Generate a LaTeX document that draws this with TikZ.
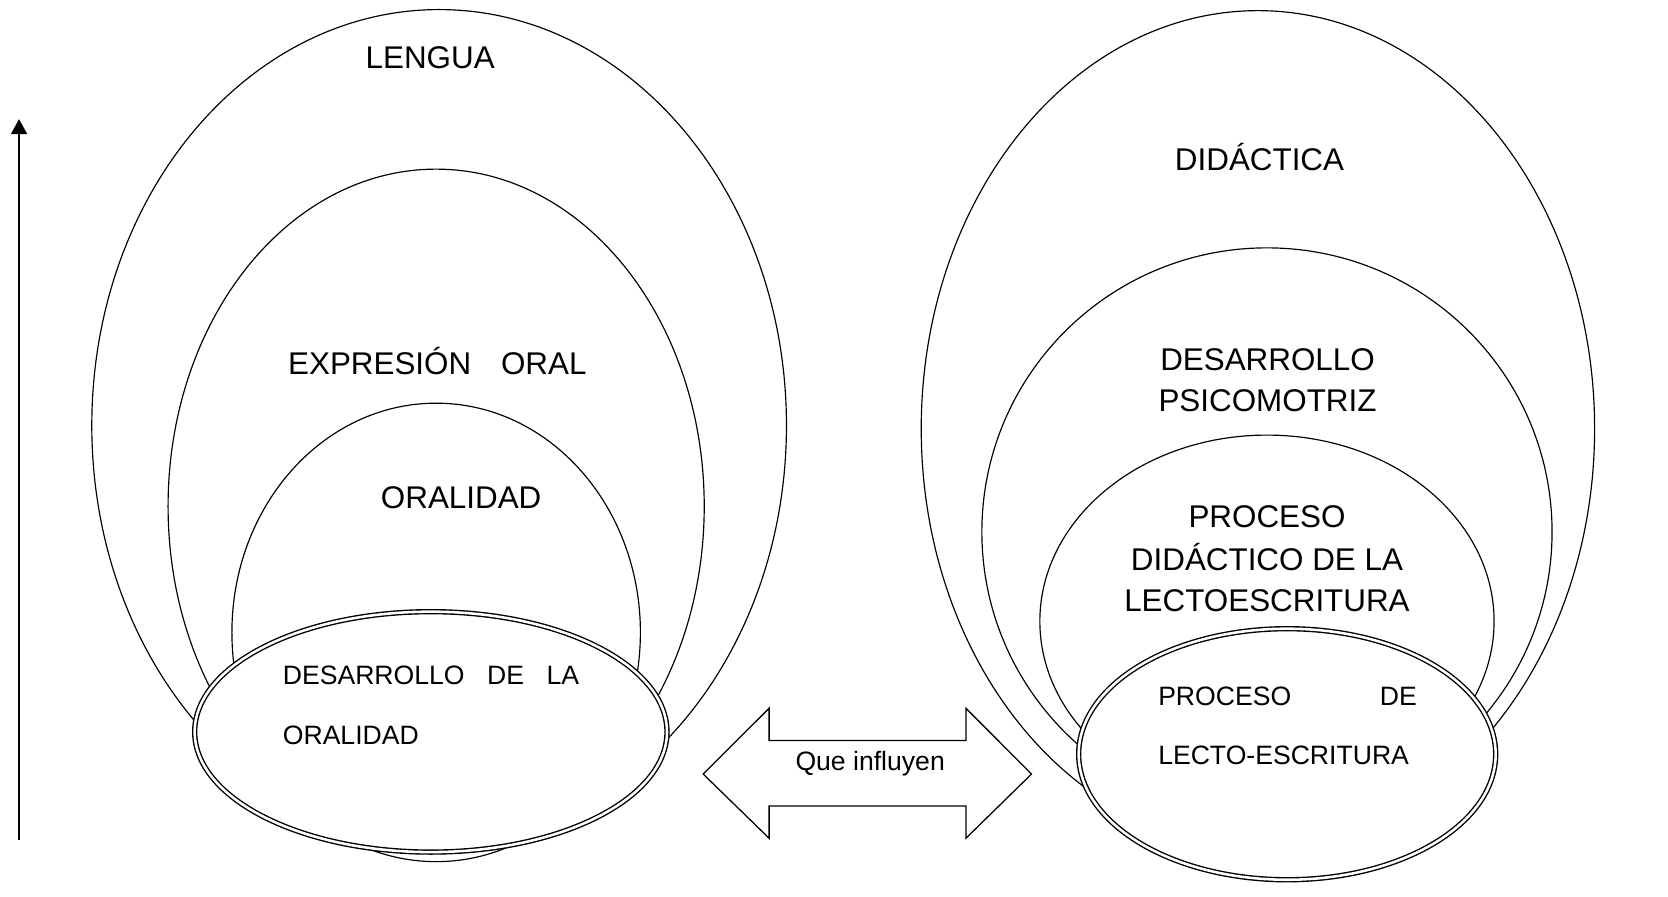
\documentclass[tikz,border=0pt]{standalone}
\usepackage{fontspec}
\setmainfont{Liberation Sans}
\usetikzlibrary{arrows.meta}
\begin{document}
\begin{tikzpicture}[x=1pt,y=-1pt,
  ring/.style={line width=1.1pt},
  dring/.style={double, double distance=2.4pt, line width=1.3pt, fill=white},
  big/.style={font=\fontsize{29.5}{39.5}\selectfont, inner sep=0pt},
  small/.style={font=\fontsize{25}{30}\selectfont, inner sep=0pt}]
\useasboundingbox (0,0) rectangle (1568,843);
% left group
\draw[ring] (412.8,400) ellipse [x radius=326.5pt, y radius=391pt];
\draw[ring] (410,476) ellipse [x radius=252pt, y radius=317pt];
\draw[ring] (410,594.5) ellipse [x radius=192pt, y radius=215.5pt];
\draw[dring] (405,688) ellipse [x radius=222pt, y radius=113pt];
% right group
\draw[ring] (1182.5,403) ellipse [x radius=316.5pt, y radius=393pt];
\draw[ring] (1191,500) ellipse [x radius=268pt, y radius=267pt];
\draw[ring] (1191,584) ellipse [x radius=213.5pt, y radius=175pt];
\draw[dring] (1210,709) ellipse [x radius=196pt, y radius=118pt];
% texts
\node[big, anchor=base] (lengua) at (404.4,64) {LENGUA};
\node[big, anchor=base west] (expr) at (270.7,352) {EXPRESIÓN\hspace{28pt}ORAL};
\node[big, anchor=base] (oral) at (433.5,477.6) {ORALIDAD};
\node[small, anchor=base west] (dl1) at (265.7,643) {\hbox to 278.5pt{DESARROLLO\hfill DE\hfill LA}};
\node[small, anchor=base west] (dl2) at (265.7,699.5) {ORALIDAD};
\node[big, anchor=base] (didac) at (1184,160) {DIDÁCTICA};
\node[big, anchor=base] (dp1) at (1191.5,348) {DESARROLLO};
\node[big, anchor=base] (dp2) at (1191.5,387) {PSICOMOTRIZ};
\node[big, anchor=base] (pd1) at (1191,495.5) {PROCESO};
\node[big, anchor=base] (pd2) at (1191,536) {DIDÁCTICO DE LA};
\node[big, anchor=base] (pd3) at (1191,575) {LECTOESCRITURA};
\node[small, anchor=base west] (pl1) at (1088.6,663) {\hbox to 243pt{PROCESO\hfill DE}};
\node[small, anchor=base west] (pl2) at (1088.6,719) {LECTO-ESCRITURA};
% double block arrow
\draw[line width=1.2pt, fill=white] (661,727.6) -- (723,665.8) -- (723,696) -- (908,696) -- (908,665.8)
  -- (969.7,727.6) -- (908,788) -- (908,757.6) -- (723,757.6) -- (723,788) -- cycle;
\node[small, anchor=base] (que) at (818,724.5) {Que influyen};
% vertical arrow
\coordinate (abot) at (17.9,790);
\coordinate (atop) at (17.9,112);
\draw[line width=1.6pt, -{Triangle[length=14pt,width=15pt]}] (abot) -- (atop);
\end{tikzpicture}
\end{document}
